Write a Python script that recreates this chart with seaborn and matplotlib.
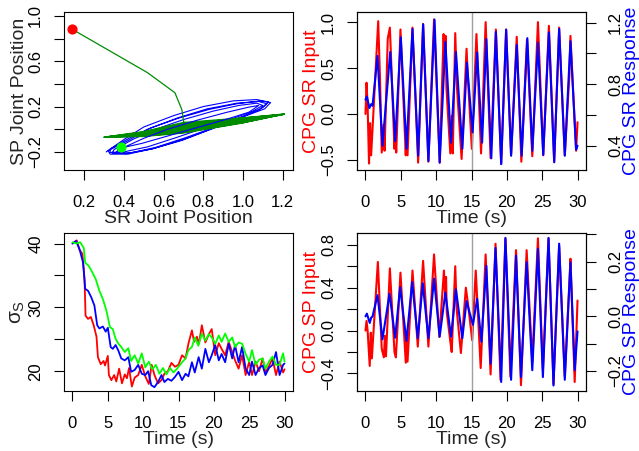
import pandas as pd
import matplotlib
matplotlib.use("Agg")
import matplotlib.pyplot as plt
import seaborn as sns

# ---- values ----

# phase plot (SR joint position, SP joint position)
start_point = [(0.137, 0.884)]
end_point = [(0.383, -0.153)]

blue_loops = [
    (0.31, -0.20), (0.40, -0.09), (0.50, 0.02), (0.65, 0.12), (0.80, 0.20), (0.95, 0.25),
    (1.07, 0.262), (1.13, 0.24), (1.10, 0.19), (1.00, 0.11), (0.85, 0.01), (0.70, -0.09),
    (0.55, -0.17), (0.42, -0.22), (0.33, -0.22),
    (0.32, -0.19), (0.42, -0.10), (0.52, 0.00), (0.67, 0.10), (0.82, 0.18), (0.97, 0.23),
    (1.08, 0.245), (1.12, 0.225), (1.08, 0.17), (0.98, 0.10), (0.84, 0.00), (0.69, -0.10),
    (0.54, -0.175), (0.41, -0.215), (0.34, -0.21),
    (0.35, -0.18), (0.45, -0.085), (0.56, 0.00), (0.70, 0.085), (0.85, 0.16), (0.98, 0.21),
    (1.07, 0.23), (1.10, 0.21), (1.05, 0.16), (0.95, 0.095), (0.82, 0.02), (0.67, -0.07),
    (0.52, -0.155), (0.40, -0.20), (0.33, -0.205),
    (0.33, -0.175), (0.43, -0.075), (0.54, 0.015), (0.68, 0.10), (0.83, 0.175), (0.97, 0.225),
    (1.09, 0.25), (1.14, 0.235), (1.11, 0.18), (1.01, 0.115), (0.87, 0.025), (0.71, -0.075),
    (0.56, -0.16), (0.43, -0.21), (0.36, -0.205), (0.383, -0.153),
]
blue_inner = [
    (0.40, -0.16), (0.50, -0.08), (0.62, 0.00), (0.77, 0.08), (0.92, 0.15), (1.03, 0.195),
    (1.08, 0.21), (1.03, 0.15), (0.93, 0.095), (0.79, 0.025), (0.63, -0.055), (0.49, -0.125),
    (0.40, -0.16),
]
green_path = [
    (0.137, 0.884), (0.518, 0.50), (0.657, 0.322), (0.692, 0.173), (0.704, 0.031),
    (0.85, 0.07), (1.0, 0.10), (1.21, 0.135), (1.0, 0.055), (0.70, -0.034), (0.50, -0.064),
    (0.30, -0.07), (0.50, -0.02), (0.70, 0.06), (1.0, 0.10), (1.20, 0.13), (1.0, 0.06),
    (0.70, -0.02), (0.50, -0.058), (0.31, -0.068), (0.50, -0.03), (0.70, 0.045), (1.0, 0.09),
    (1.21, 0.132), (1.0, 0.065), (0.70, -0.005), (0.50, -0.052), (0.30, -0.07), (0.50, -0.04),
    (0.70, 0.03), (1.0, 0.08), (1.19, 0.128), (1.0, 0.07), (0.70, 0.005), (0.50, -0.045),
    (0.31, -0.068), (0.50, -0.045), (0.70, 0.015), (1.0, 0.075), (1.20, 0.13),
    (1.0, 0.058), (0.70, -0.028), (0.50, -0.061), (0.30, -0.07), (0.50, -0.025), (0.70, 0.052),
    (1.0, 0.095), (1.21, 0.133), (1.0, 0.068), (0.70, -0.012), (0.50, -0.055), (0.31, -0.069),
    (0.50, -0.035), (0.70, 0.038), (1.0, 0.085), (1.20, 0.131), (1.0, 0.072), (0.70, 0.01),
    (0.50, -0.05), (0.30, -0.07), (0.50, -0.048), (0.70, 0.022), (1.0, 0.078), (1.19, 0.129),
]

# top right: CPG SR input (red, left axis) and response (blue, right axis)
sr_input = [
    (0.0, 0.00), (0.15, 0.34), (0.3, 0.10), (0.5, -0.54), (0.65, -0.10), (0.8, -0.45),
    (1.8, 1.01), (2.05, 0.40), (2.3, -0.42), (2.55, -0.12), (2.7, -0.40), (3.15, 0.82),
    (3.45, 0.94), (3.6, 0.65), (4.1, -0.38), (4.2, -0.18), (4.35, -0.42), (4.95, 0.92),
    (5.7, -0.45), (5.8, -0.15), (5.95, -0.45), (6.65, 0.94), (7.45, -0.53), (8.15, 0.98),
    (8.9, -0.52), (9.7, 1.03), (10.5, -0.53), (11.05, 0.87), (11.2, 0.55), (11.35, 0.85),
    (11.45, 0.29), (12.0, -0.43), (12.2, -0.02), (12.35, -0.43), (12.7, 0.88), (12.95, 0.28),
    (13.6, -0.49), (14.3, 0.71), (14.45, 0.45), (15.05, -0.38), (15.7, 0.87), (16.35, -0.43),
    (17.0, 1.00), (17.7, -0.48), (18.45, 0.92), (19.2, -0.54), (19.9, 0.92), (20.6, -0.45),
    (21.4, 0.84), (22.05, -0.52), (22.85, 0.81), (23.6, -0.46), (24.4, 1.00), (25.15, -0.45),
    (25.95, 0.96), (26.7, -0.52), (27.4, 0.94), (28.2, -0.45), (28.85, 0.43), (29.0, 0.85),
    (29.8, -0.40), (30.0, -0.09),
]
sr_response = [
    (0.0, 0.70), (0.2, 0.72), (0.55, 0.645), (0.8, 0.67), (1.0, 0.66), (1.7, 0.985),
    (2.4, 0.40), (3.5, 1.01), (4.2, 0.43), (5.0, 1.105), (5.8, 0.38), (6.65, 1.16),
    (7.45, 0.335), (8.16, 1.19), (8.9, 0.30), (9.77, 1.22), (10.5, 0.29), (11.3, 1.076),
    (12.1, 0.42), (12.8, 1.01), (13.7, 0.38), (14.35, 0.94), (15.15, 0.487), (15.8, 1.007),
    (16.5, 0.42), (17.1, 1.094), (17.8, 0.318), (18.45, 1.14), (19.2, 0.28), (19.9, 1.155),
    (20.6, 0.335), (21.4, 1.055), (22.1, 0.335), (22.9, 1.10), (23.6, 0.367), (24.4, 1.07),
    (25.15, 0.34), (25.95, 1.137), (26.7, 0.292), (27.4, 1.16), (28.2, 0.335), (29.0, 1.08),
    (29.8, 0.374), (30.0, 0.40),
]

# bottom right: CPG SP input (red, left axis) and response (blue, right axis)
sp_input = [
    (0.0, 0.00), (0.15, 0.09), (0.3, 0.0), (0.6, -0.33), (0.75, -0.02), (0.9, -0.26),
    (1.75, 0.64), (2.3, -0.17), (2.6, -0.25), (2.75, -0.05), (2.9, -0.24), (3.45, 0.58),
    (4.1, -0.20), (4.3, -0.25), (4.95, 0.54), (5.7, -0.30), (5.8, -0.05), (5.95, -0.29),
    (6.65, 0.56), (7.4, -0.15), (8.15, 0.65), (8.9, -0.15), (9.7, 0.71), (10.45, -0.06),
    (11.1, 0.56), (11.3, 0.30), (11.4, 0.50), (11.5, 0.17), (12.0, -0.10), (12.2, -0.20),
    (12.7, 0.60), (12.9, 0.20), (13.5, -0.21), (14.2, 0.40), (14.5, 0.25), (15.1, -0.09),
    (15.6, 0.56), (16.3, -0.35), (17.0, 0.71), (17.7, -0.41), (18.4, 0.81), (19.1, -0.46),
    (19.8, 0.86), (20.5, -0.43), (21.3, 0.75), (22.0, -0.51), (22.8, 0.75), (23.6, -0.29),
    (24.4, 0.86), (25.1, -0.37), (25.9, 0.86), (26.6, -0.50), (27.4, 0.79), (28.2, -0.43),
    (28.85, 0.45), (29.0, 0.67), (29.6, -0.48), (30.0, 0.28),
]
sp_response = [
    (0.0, 0.0), (0.2, 0.01), (0.6, -0.024), (0.8, -0.005), (1.0, 0.0), (1.7, 0.078),
    (2.4, -0.084), (3.4, 0.083), (4.2, -0.078), (4.9, 0.107), (5.8, -0.09), (6.6, 0.126),
    (7.4, -0.08), (8.1, 0.121), (8.9, -0.08), (9.7, 0.138), (10.5, -0.074), (11.3, 0.087),
    (12.1, -0.074), (12.8, 0.099), (13.7, -0.08), (14.3, 0.056), (15.2, -0.031), (15.8, 0.064),
    (16.4, -0.093), (17.1, 0.185), (17.7, -0.173), (18.4, 0.25), (19.2, -0.24), (19.8, 0.287),
    (20.6, -0.232), (21.3, 0.222), (22.0, -0.222), (22.8, 0.198), (23.6, -0.197), (24.4, 0.247),
    (25.1, -0.222), (25.9, 0.287), (26.6, -0.253), (27.4, 0.266), (28.2, -0.232), (29.0, 0.198),
    (29.6, -0.197), (30.0, -0.055),
]

# bottom left: sigma_S over time, three runs
sigma_red = [
    (0, 40.0), (0.6, 40.5), (1.0, 39.0), (1.4, 38.4), (1.7, 34.5), (1.85, 28.7), (2.2, 28.2),
    (2.6, 28.5), (3.0, 27.2), (3.4, 25.4), (3.6, 22.2), (4.0, 21.1), (4.4, 21.6), (4.6, 20.9),
    (5.0, 22.4), (5.15, 19.4), (5.5, 18.6), (5.9, 19.4), (6.2, 18.4), (6.6, 20.4), (7.0, 18.1),
    (7.4, 19.5), (7.7, 18.9), (8.0, 20.5), (8.4, 17.6), (8.8, 19.0), (9.3, 19.4), (9.8, 21.0),
    (10.3, 19.2), (10.8, 18.0), (11.2, 21.0), (11.6, 19.4), (12.1, 18.1), (12.6, 18.6),
    (13.0, 19.6), (13.5, 20.0), (14.0, 21.3), (14.5, 20.7), (15.0, 21.0), (15.5, 22.5),
    (16.0, 22.0), (16.4, 24.3), (16.9, 26.4), (17.2, 24.6), (17.6, 25.4), (17.9, 24.3),
    (18.3, 27.2), (18.8, 24.5), (19.3, 25.8), (19.7, 26.6), (20.2, 22.5), (20.7, 24.4),
    (21.1, 23.5), (21.6, 22.5), (22.1, 24.6), (22.6, 23.0), (23.0, 21.7), (23.5, 20.4),
    (24.0, 22.5), (24.5, 19.4), (25.0, 21.5), (25.4, 19.4), (25.9, 21.5), (26.4, 20.0),
    (26.9, 22.0), (27.3, 19.8), (27.8, 20.8), (28.3, 22.0), (28.8, 19.4), (29.3, 21.5),
    (29.8, 19.8), (30.0, 20.3),
]
sigma_blue = [
    (0, 40.0), (0.5, 40.4), (1.0, 39.1), (1.5, 37.0), (1.8, 32.9), (2.2, 32.6), (2.65, 31.6),
    (3.1, 30.3), (3.5, 27.2), (3.8, 26.7), (4.3, 27.0), (4.7, 26.2), (5.0, 26.8), (5.4, 23.8),
    (5.7, 23.5), (6.1, 24.1), (6.5, 23.2), (6.9, 22.0), (7.4, 21.7), (7.9, 22.2), (8.3, 19.9),
    (8.8, 20.2), (9.3, 21.0), (9.8, 19.6), (10.3, 19.4), (10.7, 20.0), (11.15, 17.8),
    (11.6, 17.5), (12.1, 18.3), (12.6, 19.4), (13.0, 18.3), (13.5, 18.8), (14.0, 18.5),
    (14.5, 19.1), (15.0, 19.9), (15.5, 18.6), (16.0, 19.6), (16.4, 19.2), (16.9, 21.4),
    (17.3, 19.8), (17.85, 22.2), (18.3, 20.4), (18.8, 23.5), (19.3, 21.4), (19.7, 22.5),
    (20.2, 24.1), (20.7, 21.7), (21.1, 22.7), (21.6, 21.4), (22.1, 24.3), (22.6, 22.0),
    (23.0, 24.1), (23.5, 21.4), (24.0, 23.8), (24.5, 20.4), (25.0, 19.4), (25.4, 21.5),
    (25.9, 19.4), (26.4, 20.5), (26.9, 20.9), (27.3, 19.4), (27.8, 20.5), (28.3, 21.0),
    (28.8, 23.0), (29.3, 19.4), (29.8, 21.0), (30.0, 21.2),
]
sigma_green = [
    (0, 40.2), (0.5, 40.0), (1.1, 40.2), (1.6, 39.3), (1.8, 37.0), (2.3, 36.5), (2.8, 35.5),
    (3.3, 34.4), (3.8, 32.6), (4.3, 31.3), (4.8, 29.5), (5.3, 26.9), (5.7, 26.6), (6.1, 25.1),
    (6.5, 24.3), (6.9, 23.8), (7.4, 23.0), (7.9, 23.6), (8.3, 21.6), (8.8, 22.5), (9.3, 21.2),
    (9.8, 22.8), (10.3, 20.6), (10.8, 21.5), (11.3, 20.3), (11.8, 21.0), (12.3, 19.6),
    (12.8, 20.5), (13.3, 19.5), (13.8, 20.5), (14.3, 19.8), (14.8, 20.4), (15.5, 21.4),
    (16.0, 22.0), (16.4, 23.3), (16.9, 23.8), (17.3, 25.3), (17.8, 24.0), (18.3, 25.9),
    (18.8, 24.8), (19.3, 25.8), (19.7, 25.3), (20.2, 24.3), (20.7, 25.6), (21.1, 24.6),
    (21.6, 25.9), (22.1, 24.6), (22.6, 25.3), (23.0, 23.8), (23.5, 24.5), (24.0, 24.3),
    (24.5, 22.7), (25.0, 21.5), (25.4, 23.3), (25.9, 21.0), (26.4, 21.8), (26.9, 22.0),
    (27.3, 20.4), (27.8, 21.5), (28.3, 22.3), (28.8, 21.0), (29.3, 21.0), (29.8, 22.8),
    (30.0, 21.5),
]

switch_time = 15
time_ticks = [0, 5, 10, 15, 20, 25, 30]

# ---- style ----
sns.set_theme(style="ticks", rc={
    "axes.edgecolor": "black", "axes.linewidth": 0.8,
    "xtick.color": "black", "ytick.color": "black",
    "xtick.major.size": 7, "ytick.major.size": 7,
    "xtick.major.width": 0.8, "ytick.major.width": 0.8,
    "xtick.labelsize": 12, "ytick.labelsize": 12, "axes.labelsize": 14,
    "xtick.major.pad": 11, "ytick.major.pad": 8,
})
plt.rcParams["font.family"] = ["Liberation Sans", "DejaVu Sans"]
plt.rcParams["mathtext.fontset"] = "custom"
plt.rcParams["mathtext.rm"] = "Liberation Sans"
plt.rcParams["mathtext.it"] = "Liberation Sans"


def draw(ax, pts, color, lw):
    df = pd.DataFrame(pts, columns=["x", "y"])
    sns.lineplot(data=df, x="x", y="y", ax=ax, color=color, lw=lw,
                 estimator=None, sort=False)


def yticks(ax, ticks, labels):
    ax.set_yticks(ticks)
    ax.set_yticklabels(labels, rotation=90, va="center")


fig = plt.figure(figsize=(6.39, 4.51), dpi=100)
W, H = 639, 451


def box(l, t, r, b):
    return [l / W, 1 - b / H, (r - l) / W, (b - t) / H]


# phase plot
ax1 = fig.add_axes(box(64, 12, 293, 170))
draw(ax1, blue_loops, "blue", 0.8)
draw(ax1, green_path, "#008B00", 0.9)
draw(ax1, blue_inner, "blue", 0.8)
ax1.scatter(*zip(*start_point), s=40, color="red", zorder=5)
ax1.scatter(*zip(*end_point), s=40, color="#00FF00", zorder=5)
ax1.set_xlim(0.097, 1.253)
ax1.set_ylim(-0.36, 1.035)
ax1.set_xticks([0.2, 0.4, 0.6, 0.8, 1.0, 1.2])
yticks(ax1, [-0.2, 0.0, 0.2, 0.4, 0.6, 0.8, 1.0],
       ["\u22120.2", "", "0.2", "", "0.6", "", "1.0"])
ax1.set_xlabel("SR Joint Position", labelpad=0)
ax1.set_ylabel("SP Joint Position", labelpad=0)

# SR input / response
ax2 = fig.add_axes(box(357, 12, 586, 170))
draw(ax2, sr_input, "red", 1.5)
ax2.axvline(switch_time, color="#a0a0a0", lw=1)
ax2.set_xlim(-1.2, 31.2)
ax2.set_ylim(-0.61, 1.11)
ax2.set_xticks(time_ticks)
yticks(ax2, [-0.5, 0.0, 0.5, 1.0], ["\u22120.5", "0.0", "0.5", "1.0"])
ax2.set_xlabel("Time (s)", labelpad=0)
ax2.set_ylabel("CPG SR Input", color="red", labelpad=1)
ax2r = ax2.twinx()
draw(ax2r, sr_response, "blue", 1.5)
ax2r.set_ylim(0.242, 1.27)
yticks(ax2r, [0.4, 0.6, 0.8, 1.0, 1.2], ["0.4", "", "0.8", "", "1.2"])
ax2r.tick_params(axis="y", pad=9)
ax2r.set_ylabel("CPG SR Response", color="blue", labelpad=0)

# sigma_S
ax3 = fig.add_axes(box(64, 233, 293, 391))
draw(ax3, sigma_red, "red", 1.3)
draw(ax3, sigma_blue, "blue", 1.3)
draw(ax3, sigma_green, "#00FF00", 1.3)
ax3.set_xlim(-1.2, 31.2)
ax3.set_ylim(16.9, 41.65)
ax3.set_xticks(time_ticks)
yticks(ax3, [20, 25, 30, 35, 40], ["20", "", "30", "", "40"])
ax3.set_xlabel("Time (s)", labelpad=0)
ax3.set_ylabel(r"$\sigma_S$", labelpad=1, fontsize=15)

# SP input / response
ax4 = fig.add_axes(box(357, 233, 586, 391))
draw(ax4, sp_input, "red", 1.5)
ax4.axvline(switch_time, color="#a0a0a0", lw=1)
ax4.set_xlim(-1.2, 31.2)
ax4.set_ylim(-0.564, 0.91)
ax4.set_xticks(time_ticks)
yticks(ax4, [-0.4, -0.2, 0.0, 0.2, 0.4, 0.6, 0.8],
       ["\u22120.4", "", "0.0", "", "0.4", "", "0.8"])
ax4.set_xlabel("Time (s)", labelpad=0)
ax4.set_ylabel("CPG SP Input", color="red", labelpad=1)
ax4r = ax4.twinx()
draw(ax4r, sp_response, "blue", 1.5)
ax4r.set_ylim(-0.273, 0.305)
yticks(ax4r, [-0.2, -0.1, 0.0, 0.1, 0.2, 0.3], ["\u22120.2", "", "0.0", "", "0.2", ""])
ax4r.tick_params(axis="y", pad=9)
ax4r.set_ylabel("CPG SP Response", color="blue", labelpad=0)

for ax in (ax1, ax2, ax3, ax4, ax2r, ax4r):
    for s in ax.spines.values():
        s.set_visible(True)
        s.set_color("black")

fig.savefig("out.png", dpi=100)
